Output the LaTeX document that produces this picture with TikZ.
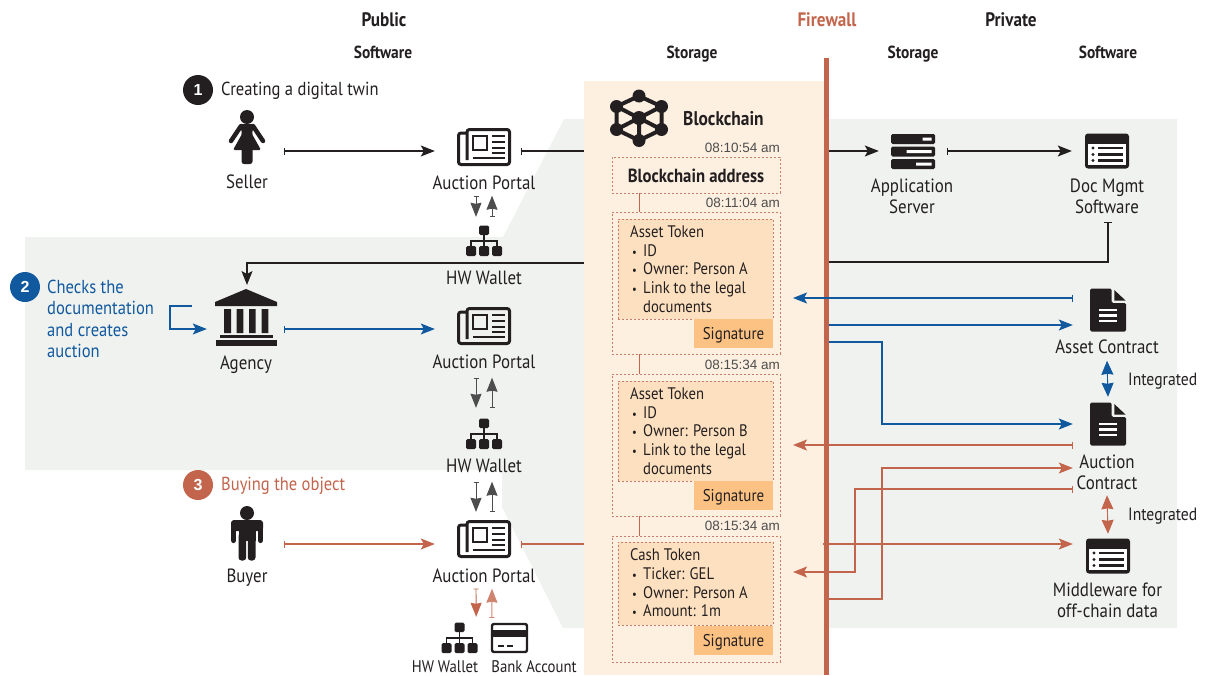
\documentclass[tikz,border=0pt]{standalone}
\usepackage{fontspec}
\setmainfont[FakeStretch=0.88]{PT Sans}
\newfontfamily\stampfont{Liberation Sans}
\usepackage{xcolor}
\usetikzlibrary{arrows.meta, positioning}

\definecolor{inkblack}{HTML}{231F20}
\definecolor{inkgrey}{HTML}{4D4D4D}
\definecolor{inkblue}{HTML}{11599F}
\definecolor{inkred}{HTML}{C3654C}
\definecolor{zonegrey}{HTML}{F0F2F0}
\definecolor{chainfill}{HTML}{FDF0E0}
\definecolor{tokenfill}{HTML}{FDE0BF}
\definecolor{signfill}{HTML}{FCC283}

\newcommand{\tokdot}{\makebox[13pt][l]{\hspace{2pt}{\fontsize{12}{12}\selectfont\textbullet}}}

\tikzset{
  iconbox/.style={inner sep=0pt, minimum height=1pt},
  lbl/.style={font=\fontsize{19.2}{21}\selectfont, align=center, text=inkblack, inner sep=0pt, text height=14pt, text depth=1pt},
  lbltwo/.style={font=\fontsize{19.2}{21}\selectfont, align=center, text=inkblack, inner sep=0pt, anchor=north},
  smalllbl/.style={font=\fontsize{16.8}{20}\selectfont, text=inkblack, inner sep=0pt, text height=13pt, text depth=1pt},
  head/.style={font=\bfseries\fontsize{19.5}{21}\selectfont, text=inkblack, inner sep=0pt, text height=14pt, text depth=1pt},
  subhead/.style={font=\bfseries\fontsize{17.5}{18}\selectfont, text=inkblack, inner sep=0pt, text height=12pt, text depth=2pt},
  stepnum/.style={circle, inner sep=0pt, minimum size=30pt, text=white, font=\stampfont\bfseries\fontsize{16}{18}\selectfont},
  steptext/.style={anchor=west, align=left, inner sep=0pt, font=\fontsize{18.8}{21.3}\selectfont},
  stamp/.style={anchor=east, inner sep=0pt, text=inkgrey, font=\stampfont\fontsize{13.5}{15}\selectfont},
  dashbox/.style={draw=inkred!85, line width=0.8pt, dash pattern=on 2pt off 2pt, inner sep=0pt},
  tokentext/.style={anchor=north west, align=left, inner sep=0pt, text=inkblack, font=\fontsize{16.7}{18.7}\selectfont},
  signbox/.style={fill=signfill, inner sep=0pt, minimum width=79pt, minimum height=29pt, text=inkblack, text height=14pt, text depth=1.6pt, font=\fontsize{17}{20}\selectfont},
  flow/.style={line width=1.1pt, {Bar[width=7pt,line width=0.8pt]}-{Stealth[length=14pt,width=11pt,inset=3pt]}},
  plain/.style={line width=1.1pt, -{Stealth[length=14pt,width=11pt,inset=3pt]}},
  shortflow/.style={line width=0.9pt, {Bar[width=5pt,line width=0.7pt]}-{Stealth[length=14pt,width=11pt,inset=1pt]}},
  both/.style={line width=0.9pt, {Stealth[length=14pt,width=12pt,inset=1pt]}-{Stealth[length=14pt,width=12pt,inset=1pt]}},
  % Icons
  womanicon/.pic={
    \fill[inkblack] (0,-20) circle (7);
    \fill[inkblack, rounded corners=1.5] (-7,-13) -- (7,-13) -- (5,-3) -- (14,13) -- (-14,13) -- (-5,-3) -- cycle;
    \fill[inkblack, rounded corners=2.5] (-5.5,8) rectangle (5.5,27);
    \draw[inkblack, line width=4.5pt, line cap=round] (-6,-11) -- (-16,4) (6,-11) -- (16,4);
  },
  manicon/.pic={
    \fill[inkblack] (0,-20) circle (7);
    \fill[inkblack, rounded corners=3] (-16,-13) rectangle (16,-2);
    \draw[inkblack, line width=5.2pt, line cap=round] (-13.4,-9) -- (-13.4,7.5) (13.4,-9) -- (13.4,7.5);
    \fill[inkblack] (-8.5,-13) rectangle (8.5,8);
    \fill[inkblack, rounded corners=3] (-8.5,0) rectangle (-0.8,27.5) (0.8,0) rectangle (8.5,27.5);
  },
  bankicon/.pic={
    \fill[inkblack] (0,-29) -- (31,-16) -- (31,-12) -- (-31,-12) -- (-31,-16) -- cycle;
    \fill[inkblack] (-22,-9) rectangle (-15,15) (-9.3,-9) rectangle (-2.7,15) (3,-9) rectangle (9.7,15) (15.7,-9) rectangle (22.3,15);
    \fill[inkblack] (-26,17) rectangle (26.7,19.7);
    \fill[inkblack] (-30,22) rectangle (30.7,27.7);
  },
  portalicon/.pic={
    \draw[inkblack, line width=3pt, rounded corners=2.5] (-17,-14) -- (-25.5,-14) -- (-25.5,17.5) -- (25.5,17.5) -- (25.5,-17.5) -- (-17,-17.5) -- (-17,13);
    \draw[inkblack, line width=2.6pt] (-11,-11) rectangle (3,3);
    \draw[inkblack, line width=2.6pt] (8,-11) -- (21,-11) (8,-5) -- (21,-5) (8,1) -- (21,1) (8,6) -- (21,6) (-11,11) -- (21,11);
  },
  walleticon/.pic={
    \draw[inkblack, line width=1.4pt] (0,-8) -- (0,0) (-13,6) -- (-13,0) -- (13,0) -- (13,6) (0,0) -- (0,6);
    \fill[inkblack, rounded corners=1.5] (-5,-15.5) rectangle (5,-6);
    \fill[inkblack, rounded corners=1.5] (-18,5) rectangle (-8,15) (-5,5) rectangle (5,15) (8,5) rectangle (18,15);
  },
  cardicon/.pic={
    \draw[inkblack, line width=2.4pt, rounded corners=2] (-17.5,-14) rectangle (17.5,14);
    \fill[inkblack] (-17.5,-8) rectangle (17.5,-1);
    \draw[inkblack, line width=1.6pt] (-12,8) -- (-6,8) (-3,8) -- (3,8);
  },
  servericon/.pic={
    \fill[inkblack, rounded corners=1.5] (-22,-17) rectangle (22,-7) (-22,-4.5) rectangle (22,5.5) (-22,8) rectangle (22,18);
    \fill[white] (9.5,-13.5) rectangle (18.5,-10.5) (-6.5,-1) rectangle (18.5,2) (3,11.5) rectangle (18.5,14.5);
  },
  windowicon/.pic={
    \fill[inkblack, rounded corners=3] (-22,-17.5) rectangle (22,17.5);
    \fill[white] (-19,-7) rectangle (19,14);
    \draw[inkblack, line width=2.4pt] (-9,-3) -- (16,-3) (-9,3.5) -- (16,3.5) (-9,9.5) -- (16,9.5);
    \fill[inkblack] (-14,-3) circle (1.6) (-14,3.5) circle (1.6) (-14,9.5) circle (1.6);
  },
  docicon/.pic={
    \fill[inkblack, rounded corners=1.5] (-18,-21.5) -- (3.7,-21.5) -- (3.7,-7) -- (18,-7) -- (18,21.5) -- (-18,21.5) -- cycle;
    \fill[inkblack] (6.3,-20) -- (17.5,-9.5) -- (6.3,-9.5) -- cycle;
    \draw[white, line width=2.3pt] (-9,0) -- (9,0) (-9,5.5) -- (9,5.5) (-9,11) -- (9,11);
  },
  chainicon/.pic={
    \draw[inkblack, line width=4pt] (0,-22) -- (22.5,-11.5) -- (22.5,11.5) -- (0,22.5) -- (-22.5,11.5) -- (-22.5,-11.5) -- cycle;
    \draw[inkblack, line width=4pt] (0,0) -- (22.5,-11.5) (0,0) -- (22.5,11.5) (0,0) -- (0,22.5) (0,0) -- (-22.5,11.5) (0,0) -- (-22.5,-11.5);
    \fill[inkblack] (0,-22) circle (6.5) (22.5,-11.5) circle (6.5) (22.5,11.5) circle (6.5)
      (0,22.5) circle (6.5) (-22.5,11.5) circle (6.5) (-22.5,-11.5) circle (6.5) (0,0) circle (7);
  },
}

\begin{document}
\begin{tikzpicture}[x=1pt, y=-1pt]
\useasboundingbox (0,0) rectangle (1209,675);

% Zones
\fill[zonegrey] (25,237) -- (503,237) -- (564,119) -- (1177,119) -- (1177,628) -- (563,628) -- (502,507) -- (502,470) -- (25,470) -- cycle;
\node[fill=chainfill, inner sep=0pt, minimum width=242pt, minimum height=594pt] (chain) at (705,378) {};
\node[fill=inkred, inner sep=0pt, minimum width=5pt, minimum height=617pt] (firewall) at (826,366.5) {};

% Headers
\node[head] (public) at (384,20) {Public};
\node[head, text=inkred] (firewallhead) at (827,20) {Firewall};
\node[head] (private) at (1011,20) {Private};
\node[subhead] (softA) at (383,53) {Software};
\node[subhead] (storeA) at (692,53) {Storage};
\node[subhead] (storeB) at (913,53) {Storage};
\node[subhead] (softB) at (1108,53) {Software};

% Steps
\node[stepnum, fill=inkblack] (stepA) at (198,90) {1};
\node[steptext, text=inkblack] (stepAtext) at (221,91) {Creating a digital twin};
\node[stepnum, fill=inkblue] (stepB) at (25,287) {2};
\node[steptext, text=inkblue, anchor=north west] (stepBtext) at (47,280) {Checks the\\documentation\\and creates\\auction};
\node[stepnum, fill=inkred] (stepC) at (198,485) {3};
\node[steptext, text=inkred] (stepCtext) at (221,486) {Buying the object};

% Public side nodes
\node[iconbox, minimum width=74pt] (seller) at (247,151) {};
\pic at (247,137) {womanicon};
\node[lbl] (sellerlbl) at (247,182) {Seller};
\node[iconbox, minimum width=74pt] (portalA) at (484,151) {};
\pic at (484,147) {portalicon};
\node[lbl] (portalAlbl) at (484,183) {Auction Portal};
\node[iconbox, minimum width=36pt, minimum height=48pt] (walletA) at (484,241) {};
\pic at (484,241) {walleticon};
\node[lbl] (walletAlbl) at (484,278) {HW Wallet};

\node[iconbox, minimum width=74pt] (agency) at (247,329) {};
\pic at (246,318) {bankicon};
\node[lbl] (agencylbl) at (246,363) {Agency};
\node[iconbox, minimum width=74pt] (portalB) at (484,329) {};
\pic at (484,326) {portalicon};
\node[lbl] (portalBlbl) at (484,362) {Auction Portal};
\node[iconbox, minimum width=36pt, minimum height=52pt] (walletB) at (484,434) {};
\pic at (484,434) {walleticon};
\node[lbl] (walletBlbl) at (484,466) {HW Wallet};

\node[iconbox, minimum width=74pt] (buyer) at (247,544) {};
\pic at (247,533) {manicon};
\node[lbl] (buyerlbl) at (247,576) {Buyer};
\node[iconbox, minimum width=74pt, minimum height=64pt] (portalC) at (484,544) {};
\pic at (484,539) {portalicon};
\node[lbl] (portalClbl) at (484,576) {Auction Portal};
\node[iconbox, minimum width=33pt, minimum height=42pt] (walletC) at (459.5,638) {};
\pic at (459.5,638) {walleticon};
\node[smalllbl] (walletClbl) at (445,666.5) {HW Wallet};
\node[iconbox, minimum width=35pt, minimum height=40pt] (bank) at (509.5,638) {};
\pic at (509.5,638) {cardicon};
\node[smalllbl] (banklbl) at (534,666.5) {Bank Account};

% Blockchain nodes
\pic at (639,118) {chainicon};
\node[anchor=west, inner sep=0pt, text=inkblack, font=\bfseries\fontsize{19.8}{21}\selectfont] (chainlbl) at (683,119) {Blockchain};
\coordinate (linkx) at (639,0);

\node[stamp] (timeA) at (780,148) {08:10:54 am};
\node[dashbox, minimum width=168pt, minimum height=36pt] (address) at (696,175) {};
\node[inner sep=0pt, text=inkblack, font=\bfseries\fontsize{19}{20}\selectfont] (addresslbl) at (696,175.5) {Blockchain address};

\node[stamp] (timeB) at (780,203) {08:11:04 am};
\node[dashbox, minimum width=168pt, minimum height=142pt] (tokenA) at (696,283) {};
\node[dashbox, fill=tokenfill, minimum width=155pt, minimum height=100pt] (innerA) at (695.5,269) {};
\node[tokentext] (textA) at (630,225.5) {Asset Token\\\tokdot ID\\\tokdot Owner: Person A\\\tokdot Link to the legal\\\makebox[13pt]{}documents};
\node[signbox] (signA) at (733.5,333.5) {Signature};

\node[stamp] (timeC) at (780,365) {08:15:34 am};
\node[dashbox, minimum width=168pt, minimum height=142pt] (tokenB) at (696,445) {};
\node[dashbox, fill=tokenfill, minimum width=155pt, minimum height=100pt] (innerB) at (695.5,431) {};
\node[tokentext] (textB) at (630,387.5) {Asset Token\\\tokdot ID\\\tokdot Owner: Person B\\\tokdot Link to the legal\\\makebox[13pt]{}documents};
\node[signbox] (signB) at (733.5,495.5) {Signature};

\node[stamp] (timeD) at (780,526) {08:15:34 am};
\node[dashbox, minimum width=168pt, minimum height=126pt] (tokenC) at (696,599) {};
\node[dashbox, fill=tokenfill, minimum width=155pt, minimum height=83pt] (innerC) at (695.5,583.5) {};
\node[tokentext] (textC) at (630,548.5) {Cash Token\\\tokdot Ticker: GEL\\\tokdot Owner: Person A\\\tokdot Amount: 1m};
\node[signbox] (signC) at (733.5,640.5) {Signature};

% Private side nodes
\node[iconbox, minimum width=68pt] (server) at (913,151) {};
\pic at (913,151) {servericon};
\node[lbltwo] (serverlbl) at (912,179) {Application\\Server};
\node[iconbox, minimum width=70pt] (docmgmt) at (1107,151) {};
\pic at (1107,151) {windowicon};
\node[lbltwo] (docmgmtlbl) at (1107,179) {Doc Mgmt\\Software};

\node[iconbox, minimum width=70pt] (asset) at (1108,310) {};
\pic at (1108,310) {docicon};
\node[lbl] (assetlbl) at (1107,347) {Asset Contract};
\node[iconbox, minimum width=70pt, minimum height=54pt] (auction) at (1108,424) {};
\pic at (1108,424) {docicon};
\node[lbltwo] (auctionlbl) at (1107,455) {Auction\\Contract};
\node[iconbox, minimum width=70pt, minimum height=44pt] (middleware) at (1108,556) {};
\pic at (1108,556) {windowicon};
\node[lbltwo] (middlewarelbl) at (1107.5,583) {Middleware for\\off-chain data};
\node[lbl, anchor=west, font=\fontsize{17.8}{20}\selectfont] (integratedA) at (1128,379) {Integrated};
\node[lbl, anchor=west, font=\fontsize{17.8}{20}\selectfont] (integratedB) at (1128,514) {Integrated};

% Bends and free ends
\coordinate (tipA) at (793,298);
\coordinate (tipB) at (793,445);
\coordinate (tipC) at (793,572);
\coordinate (bendblue) at (882,342);
\coordinate (bendredA) at (855,572);
\coordinate (bendredB) at (882,599);
\coordinate (agencyin) at (192,306);
\coordinate (docdrop) at (1108,222);

% Links between the blocks
\draw[inkred, line width=0.9pt] (address.south -| linkx) -- (tokenA.north -| linkx);
\draw[inkred, line width=0.9pt] (tokenA.south -| linkx) -- (tokenB.north -| linkx);
\draw[inkred, line width=0.9pt] (tokenB.south -| linkx) -- (tokenC.north -| linkx);

% Black arrows
\draw[flow, inkblack] (seller.east) -- ([xshift=-12pt]portalA.west);
\draw[inkblack, line width=1.1pt, {Bar[width=7pt,line width=0.8pt]}-] (portalA.east) -- (portalA.east -| chain.west);
\draw[plain, inkblack] (server.west -| firewall.east) -- (server.west);
\draw[flow, inkblack] (server.east) -- (docmgmt.west);
\draw[inkblack, line width=1.1pt, {Bar[width=8pt,line width=0.8pt]}-] (docdrop) -- (docdrop |- 0,262) -- (firewall.east |- 0,262);
\draw[plain, inkblack] (chain.west |- 0,263) -- (agency |- 0,263) -- (agency |- 0,285);

% Wallet arrows
\draw[shortflow, inkgrey] ([xshift=-8pt,yshift=-5pt]portalAlbl.south) -- (walletA.north -| 476,0);
\draw[shortflow, inkgrey] (walletA.north -| 492,0) -- ([xshift=8pt,yshift=-5pt]portalAlbl.south);
\draw[shortflow, inkgrey] ([xshift=-8pt,yshift=-8pt]portalBlbl.south) -- (walletB.north -| 476,0);
\draw[shortflow, inkgrey] (walletB.north -| 492,0) -- ([xshift=8pt,yshift=-8pt]portalBlbl.south);
\draw[shortflow, inkgrey] ([xshift=-8pt,yshift=-8pt]walletBlbl.south) -- (portalC.north -| 476,0);
\draw[shortflow, inkgrey] (portalC.north -| 492,0) -- ([xshift=8pt,yshift=-8pt]walletBlbl.south);
\draw[shortflow, inkred] ([xshift=-8pt,yshift=-5pt]portalClbl.south) -- (walletC.north east);
\draw[shortflow, inkred!80] (bank.north west) -- ([xshift=8pt,yshift=-5pt]portalClbl.south);

% Blue arrows
\draw[plain, inkblue] (agencyin) -- (agencyin -| 170,0) -- (170,329) -- ([xshift=-3pt]agency.west |- 0,329);
\draw[flow, inkblue] (agency.east) -- ([xshift=-12pt]portalB.west);
\draw[flow, inkblue] ([yshift=12pt]asset.west) -- (tipA);
\draw[plain, inkblue] ([yshift=-15pt]asset.west -| firewall.east) -- ([yshift=-15pt]asset.west);
\draw[plain, inkblue] (bendblue -| firewall.east) -- (bendblue) -- (bendblue |- auction.west) -- (auction.west);
\draw[both, inkblue] ([yshift=-6pt]assetlbl.south) -- (auction.north);

% Red arrows
\draw[flow, inkred] (buyer.east) -- ([xshift=-12pt]portalC.west);
\draw[inkred, line width=1.1pt, {Bar[width=7pt,line width=0.8pt]}-] (portalC.east) -- (portalC.east -| chain.west);
\draw[flow, inkred] ([yshift=-21pt]auction.west) -- (tipB);
\draw[flow, inkred] ([yshift=-65pt]auction.west) -- ([yshift=-65pt]auction.west -| bendredA) -- (bendredA) -- (tipC);
\draw[plain, inkred] (bendredB -| firewall.east) -- (bendredB) -- (bendredB |- 0,468) -- ([yshift=-44pt]auction.west);
\draw[plain, inkred] ([yshift=12pt]middleware.west -| firewall.west) -- ([yshift=12pt]middleware.west);
\draw[both, inkred] ([yshift=-5pt]auctionlbl.south) -- (middleware.north);

\end{tikzpicture}
\end{document}
